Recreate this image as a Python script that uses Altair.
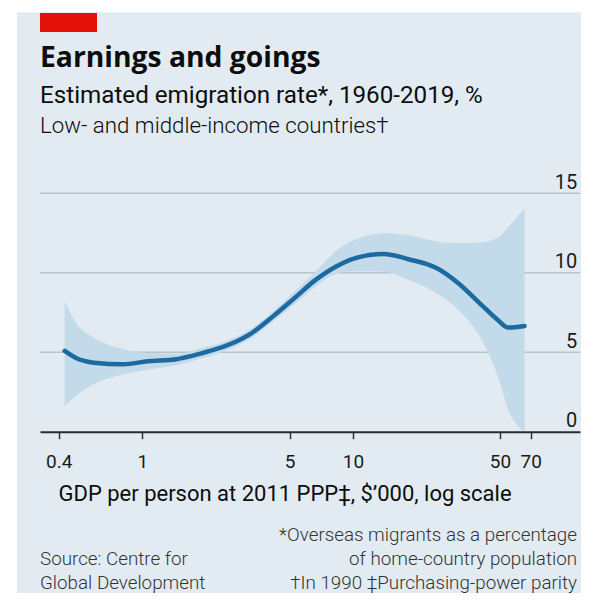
import altair as alt
import pandas as pd

# GDP per person ($'000, 2011 PPP) sample points
gdp = [0.427, 0.486, 0.590, 0.807, 1.06, 1.45, 1.905, 2.60, 3.29, 4.16, 5.26,
       6.65, 8.41, 10.2, 14.0, 18.4, 25.1, 31.7, 40.1, 48.8, 54.8, 65.4]
# Estimated emigration rate, %
rate = [5.08, 4.62, 4.34, 4.24, 4.43, 4.56, 4.93, 5.50, 6.19, 7.24, 8.39,
        9.55, 10.43, 10.91, 11.18, 10.85, 10.28, 9.34, 8.08, 7.03, 6.55, 6.65]
# Confidence band
lower = [1.6, 2.3, 3.0, 3.6, 3.9, 4.2, 4.6, 5.2, 5.9, 6.92, 8.0,
         9.13, 9.95, 10.1, 10.07, 9.55, 8.71, 7.66, 5.98, 3.5, 1.37, 0.0]
upper = [8.2, 6.8, 5.9, 5.2, 4.95, 4.9, 5.25, 5.8, 6.5, 7.55, 8.8,
         10.07, 11.43, 12.06, 12.49, 12.38, 11.96, 11.86, 11.9, 12.2, 12.9, 14.06]

x_ticks = [0.4, 1, 5, 10, 50, 70]
y_ticks = [0, 5, 10, 15]
grid_vals = [5, 10, 15]

title = "Earnings and goings"
subtitle = "Estimated emigration rate*, 1960-2019, %"
subtitle2 = "Low- and middle-income countries\u2020"
x_title = "GDP per person at 2011 PPP\u2021, $\u2019000, log scale"
notes_right = ["*Overseas migrants as a percentage",
               "of home-country population",
               "\u2020In 1990   \u2021Purchasing-power parity"]
notes_left = ["Source: Centre for", "Global Development"]

FONT = "Roboto"
W, H = 540, 238.4
BG = "#e2ebf2"

df = pd.DataFrame({"gdp": gdp, "rate": rate, "lower": lower, "upper": upper})
one = pd.DataFrame({"a": [0]})

xscale = alt.Scale(type="log", domain=[0.326, 120], nice=False)
yscale = alt.Scale(domain=[0, 15], nice=False, zero=False)

xaxis = alt.Axis(values=x_ticks, format="~g", grid=False,
                 labelFont=FONT, labelFontSize=19, labelColor="#1a1a1a",
                 labelBaseline="alphabetic", labelPadding=29,
                 labelFlush=False, labelOverlap=False,
                 tickColor="#333333", tickSize=7, tickWidth=1.5,
                 domainColor="#2b2b2b", domainWidth=2,
                 title=x_title, titleFont=FONT, titleFontSize=22,
                 titleFontWeight="normal", titleColor="#0d0d0d",
                 titleAlign="left", titleBaseline="alphabetic",
                 titleX=18, titleY=69, zindex=1)
yaxis = alt.Axis(orient="right", values=y_ticks, grid=False,
                 domain=False, ticks=False,
                 labelFont=FONT, labelFontSize=20, labelColor="#1a1a1a",
                 labelAlign="right", labelBaseline="alphabetic",
                 labelPadding=-3.3, labelOffset=-5, labelFlush=False,
                 labelOverlap=False, title=None, zindex=1)

bg = alt.Chart(one).mark_rect(color=BG).encode(
    x=alt.value(-23), x2=alt.value(560), y=alt.value(-181), y2=alt.value(420))

red = alt.Chart(one).mark_rect(color="#e3120b").encode(
    x=alt.value(0), x2=alt.value(57), y=alt.value(-180.3), y2=alt.value(-161.3))

grid = alt.Chart(pd.DataFrame({"v": grid_vals})).mark_rule(
    color="#b8c3ca", strokeWidth=1.6).encode(
    y=alt.Y("v:Q", scale=yscale, axis=yaxis))

band = alt.Chart(df).mark_area(color="#c2daea", interpolate="monotone").encode(
    x=alt.X("gdp:Q", scale=xscale, axis=xaxis),
    y=alt.Y("lower:Q", scale=yscale, axis=yaxis),
    y2="upper:Q",
)

line = alt.Chart(df).mark_line(color="#1c6aa0", strokeWidth=4.5,
                               interpolate="monotone", strokeCap="round").encode(
    x=alt.X("gdp:Q", scale=xscale, axis=xaxis),
    y=alt.Y("rate:Q", scale=yscale, axis=yaxis))


def txt(s, x, y, size, weight="normal", align="left", color="#0d0d0d", font=FONT):
    return alt.Chart(pd.DataFrame({"t": [s]})).mark_text(
        align=align, baseline="alphabetic", font=font, fontSize=size,
        fontWeight=weight, color=color).encode(
        text="t:N", x=alt.value(x), y=alt.value(y))


texts = [
    txt(title, 0, -126.6, 28.3, "bold", font="Open Sans"),
    txt(subtitle, 0, -90, 24.2),
    txt(subtitle2, 0, -60, 22.3, 300),
]
for i, s in enumerate(notes_right):
    texts.append(txt(s, 537, 347.7 + 24 * i, 18.8, 300, "right", "#333333"))
for i, s in enumerate(notes_left):
    texts.append(txt(s, 0, 371.7 + 24 * i, 18.8, 300, "left", "#333333"))

chart = alt.layer(bg, red, grid, band, line, *texts).properties(
    width=W, height=H,
    autosize=alt.AutoSizeParams(type="none"),
    padding={"left": 32, "top": 185.3, "right": 1, "bottom": 161},
    background="white",
).configure_view(stroke="transparent")

chart.save("out.html", embed_options={"renderer": "svg", "actions": False})
